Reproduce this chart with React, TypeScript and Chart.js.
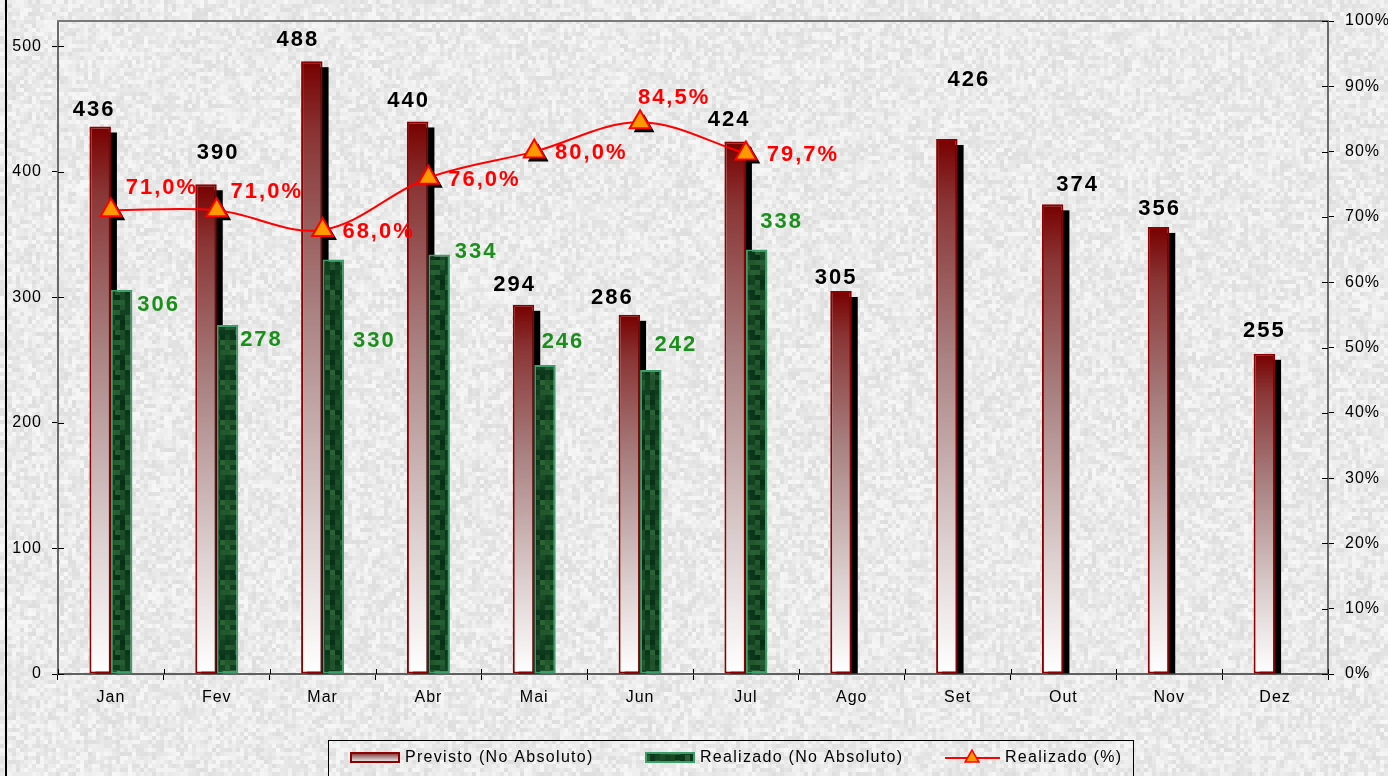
import React, { useEffect, useRef } from 'react';
import { Chart, registerables } from 'chart.js';
Chart.register(...registerables);

const months = ['Jan', 'Fev', 'Mar', 'Abr', 'Mai', 'Jun', 'Jul', 'Ago', 'Set', 'Out', 'Nov', 'Dez'];
const previsto = [436, 390, 488, 440, 294, 286, 424, 305, 426, 374, 356, 255];
const realizado = [306, 278, 330, 334, 246, 242, 338, null, null, null, null, null];
const realizadoPct = [0.71, 0.71, 0.68, 0.76, 0.8, 0.845, 0.797, null, null, null, null, null];
const pctLabels = ['71,0%', '71,0%', '68,0%', '76,0%', '80,0%', '84,5%', '79,7%'];
const seriesNames = ['Previsto (No Absoluto)', 'Realizado (No Absoluto)', 'Realizado (%)'];

// label nudges (style only)
const labelStyle = {
  prevDx: [-7, 11, -15, -10, -10, -18, -7, -6, 21, 24, 0, -1],
  prevDy: [-17, -31, -21, -21, -20, -17, -22, -13, -59, -19, -18, -23],
  realDx: [36, 33, 40, 36, 17, 24, 24],
  realDy: [15, 15, 81, -3, -23, -25, -28],
  pctDx: [50, 49, 55, 55, 56, 33, 56],
  pctDy: [-22, -18, 2, 2, 1, -24, 1],
};

function hash(i: number, j: number, s: number) {
  let h = (i * 374761393 + j * 668265263 + s * 982451653) | 0;
  h = Math.imul(h ^ (h >>> 13), 1274126177);
  h = h ^ (h >>> 16);
  return (h >>> 0) / 4294967295;
}

function makeNoise(w: number, h: number) {
  const c = document.createElement('canvas');
  c.width = w; c.height = h;
  const x = c.getContext('2d')!;
  const cell = 4;
  for (let i = 0; i < w / cell; i++) {
    for (let j = 0; j < h / cell; j++) {
      const g = Math.round(221 + hash(i, j, 1) * 26);
      x.fillStyle = `rgb(${g},${g},${g})`;
      x.fillRect(i * cell, j * cell, cell, cell);
    }
  }
  return c;
}

function makeGreenTile() {
  const c = document.createElement('canvas');
  c.width = 40; c.height = 40;
  const x = c.getContext('2d')!;
  const cell = 5;
  for (let i = 0; i < 8; i++) {
    for (let j = 0; j < 8; j++) {
      const t = hash(i, j, 7);
      const r = Math.round(6 + t * 38);
      const g = Math.round(48 + t * 52);
      const b = Math.round(22 + t * 32);
      x.fillStyle = `rgb(${r},${g},${b})`;
      x.fillRect(i * cell, j * cell, cell, cell);
    }
  }
  return c;
}

function redGradient(ctx: CanvasRenderingContext2D, top: number, bot: number) {
  const g = ctx.createLinearGradient(0, top, 0, bot);
  g.addColorStop(0, '#780000');
  g.addColorStop(0.12, '#8a3535');
  g.addColorStop(0.4, '#a88080');
  g.addColorStop(0.75, '#dccfcf');
  g.addColorStop(1, '#ffffff');
  return g;
}

function triangle(ctx: CanvasRenderingContext2D, x: number, y: number, r: number) {
  ctx.beginPath();
  for (let k = 0; k < 3; k++) {
    const a = -Math.PI / 2 + (k * 2 * Math.PI) / 3;
    const px = x + Math.cos(a) * r;
    const py = y + Math.sin(a) * r;
    if (k === 0) ctx.moveTo(px, py); else ctx.lineTo(px, py);
  }
  ctx.closePath();
}

export default function App() {
  const ref = useRef<HTMLCanvasElement>(null);
  useEffect(() => {
    const canvas = ref.current!;
    const noise = makeNoise(1388, 776);
    const greenTile = makeGreenTile();
    const gctx = canvas.getContext('2d')!;
    const greenPattern = gctx.createPattern(greenTile, 'repeat')!;

    const decor = {
      id: 'decor',
      beforeDraw(chart: any) {
        const ctx = chart.ctx;
        ctx.save();
        ctx.drawImage(noise, 0, 0);
        ctx.fillStyle = '#000';
        ctx.fillRect(5, 0, 2, 776);
        ctx.restore();
        ctx.letterSpacing = '1px';
      },
      beforeDatasetsDraw(chart: any) {
        const ctx = chart.ctx;
        ctx.save();
        ctx.fillStyle = '#000';
        const m0 = chart.getDatasetMeta(0);
        m0.data.forEach((el: any, i: number) => {
          if (previsto[i] == null) return;
          const left = el.x - el.width / 2 + 6;
          ctx.fillRect(left, el.y + 6, el.width, el.base - el.y - 6);
        });
        const m2 = chart.getDatasetMeta(2);
        m2.data.forEach((el: any, i: number) => {
          if (realizadoPct[i] == null) return;
          triangle(ctx, el.x + 4, el.y + 4, 12);
          ctx.fill();
        });
        ctx.restore();
      },
      afterDatasetsDraw(chart: any) {
        const ctx = chart.ctx;
        ctx.save();
        ctx.letterSpacing = '2px';
        ctx.font = "bold 22px 'Liberation Sans', Arial, sans-serif";
        ctx.textAlign = 'center';
        ctx.textBaseline = 'middle';
        const m0 = chart.getDatasetMeta(0);
        ctx.fillStyle = '#000';
        m0.data.forEach((el: any, i: number) => {
          if (previsto[i] == null) return;
          ctx.fillText(String(previsto[i]), el.x + labelStyle.prevDx[i] + 1, el.y + labelStyle.prevDy[i]);
        });
        const m1 = chart.getDatasetMeta(1);
        ctx.fillStyle = '#1b8f1b';
        m1.data.forEach((el: any, i: number) => {
          if (realizado[i] == null) return;
          ctx.fillText(String(realizado[i]), el.x + labelStyle.realDx[i] + 1, el.y + labelStyle.realDy[i]);
        });
        const m2 = chart.getDatasetMeta(2);
        ctx.fillStyle = '#ff0000';
        m2.data.forEach((el: any, i: number) => {
          if (realizadoPct[i] == null) return;
          ctx.fillText(pctLabels[i], el.x + labelStyle.pctDx[i] + 1, el.y + labelStyle.pctDy[i]);
        });
        ctx.restore();
      },
      afterDraw(chart: any) {
        const ctx = chart.ctx;
        const { left, right, top, bottom } = chart.chartArea;
        ctx.save();
        // top frame line
        ctx.strokeStyle = '#7a7a7a';
        ctx.lineWidth = 2;
        ctx.beginPath();
        ctx.moveTo(left - 1, top);
        ctx.lineTo(right + 1, top);
        ctx.stroke();
        // inner ticks
        ctx.strokeStyle = '#000';
        ctx.lineWidth = 1;
        ctx.beginPath();
        chart.scales.y.ticks.forEach((t: any) => {
          const y = Math.round(chart.scales.y.getPixelForValue(t.value)) + 0.5;
          ctx.moveTo(left, y); ctx.lineTo(left + 6, y);
        });
        chart.scales.y1.ticks.forEach((t: any) => {
          const y = Math.round(chart.scales.y1.getPixelForValue(t.value)) + 0.5;
          ctx.moveTo(right - 6, y); ctx.lineTo(right, y);
        });
        const xs = chart.scales.x;
        for (let i = 0; i <= months.length; i++) {
          const x = Math.round(xs.left + (i * (xs.right - xs.left)) / months.length) + 0.5;
          ctx.moveTo(x, bottom - 5); ctx.lineTo(x, bottom);
        }
        ctx.stroke();

        // legend
        ctx.strokeStyle = '#000';
        ctx.lineWidth = 1;
        ctx.strokeRect(328.5, 740.5, 805, 60);
        const ly = 757;
        ctx.fillStyle = redGradient(ctx, ly - 5, ly + 6);
        ctx.fillRect(350, ly - 5, 50, 11);
        ctx.strokeStyle = '#8b0000';
        ctx.lineWidth = 2;
        ctx.strokeRect(351, ly - 4, 48, 9);
        ctx.fillStyle = greenPattern;
        ctx.fillRect(645, ly - 5, 50, 11);
        ctx.strokeStyle = '#3c9e6a';
        ctx.strokeRect(646, ly - 4, 48, 9);
        ctx.strokeStyle = '#ff0000';
        ctx.lineWidth = 2;
        ctx.beginPath();
        ctx.moveTo(945, ly + 1); ctx.lineTo(1000, ly + 1);
        ctx.stroke();
        triangle(ctx, 972, ly + 1, 8);
        ctx.fillStyle = '#ff9900';
        ctx.fill();
        ctx.lineWidth = 1.5;
        ctx.stroke();
        ctx.letterSpacing = '1.3px';
        ctx.font = "16px 'Liberation Sans', Arial, sans-serif";
        ctx.fillStyle = '#000';
        ctx.textAlign = 'left';
        ctx.textBaseline = 'middle';
        ctx.fillText(seriesNames[0], 405, ly + 1);
        ctx.fillText(seriesNames[1], 700, ly + 1);
        ctx.fillText(seriesNames[2], 1005, ly + 1);
        ctx.restore();
        ctx.letterSpacing = '0px';
      },
    };

    const chart = new Chart(canvas, {
      type: 'bar',
      data: {
        labels: months,
        datasets: [
          {
            type: 'bar',
            label: seriesNames[0],
            data: previsto,
            order: 1,
            yAxisID: 'y',
            backgroundColor: (c: any) => {
              const ch = c.chart;
              if (!ch.chartArea || c.type !== 'data' || c.raw == null) return '#a06060';
              const top = ch.scales.y.getPixelForValue(c.raw);
              const bot = ch.scales.y.getPixelForValue(0);
              return redGradient(ch.ctx, top, bot);
            },
            borderColor: '#8b0000',
            borderWidth: 2,
            borderSkipped: false,
            barPercentage: 1,
            categoryPercentage: 0.406,
          } as any,
          {
            type: 'bar',
            label: seriesNames[1],
            data: realizado,
            order: 2,
            yAxisID: 'y',
            backgroundColor: greenPattern,
            borderColor: '#3c9e6a',
            borderWidth: 2,
            borderSkipped: false,
            barPercentage: 1,
            categoryPercentage: 0.406,
          } as any,
          {
            type: 'line',
            label: seriesNames[2],
            data: realizadoPct,
            order: 0,
            yAxisID: 'y1',
            borderColor: '#ff0000',
            borderWidth: 2,
            tension: 0.35,
            pointStyle: 'triangle',
            pointRadius: 12,
            pointBackgroundColor: '#ff9900',
            pointBorderColor: '#ff0000',
            pointBorderWidth: 2,
            spanGaps: false,
          } as any,
        ],
      },
      options: {
        animation: false,
        responsive: false,
        layout: { padding: { top: 21, left: 0, right: 0, bottom: 0 } },
        font: { family: "'Liberation Sans', Arial, sans-serif", size: 16 },
        plugins: {
          legend: { display: false },
          tooltip: { enabled: false },
        },
        scales: {
          x: {
            grid: { display: true, drawOnChartArea: false, color: '#000', tickLength: 6, offset: true },
            border: { color: '#606060', width: 2 },
            ticks: { color: '#000', padding: 8, font: { family: "'Liberation Sans', Arial, sans-serif", size: 16 } },
            afterFit: (s: any) => { s.height = 102; },
          },
          y: {
            position: 'left',
            min: 0,
            max: 520,
            grid: { drawOnChartArea: false, color: '#000', tickLength: 6 },
            border: { color: '#6a6a6a', width: 2 },
            ticks: { stepSize: 100, includeBounds: false, color: '#000', padding: 10, font: { family: "'Liberation Sans', Arial, sans-serif", size: 16 } },
            afterFit: (s: any) => { s.width = 58; },
          },
          y1: {
            position: 'right',
            min: 0,
            max: 1,
            grid: { drawOnChartArea: false, color: '#000', tickLength: 6 },
            border: { color: '#6a6a6a', width: 2 },
            ticks: {
              stepSize: 0.1,
              color: '#000',
              padding: 11,
              font: { family: "'Liberation Sans', Arial, sans-serif", size: 16 },
              callback: (v: any) => Math.round(Number(v) * 100) + '%',
            },
            afterFit: (s: any) => { s.width = 60; },
          },
        },
      } as any,
      plugins: [decor],
    });
    return () => chart.destroy();
  }, []);

  return (
    <canvas
      ref={ref}
      width={1388}
      height={776}
      style={{ position: 'absolute', left: 0, top: 0, width: 1388, height: 776 }}
    />
  );
}
